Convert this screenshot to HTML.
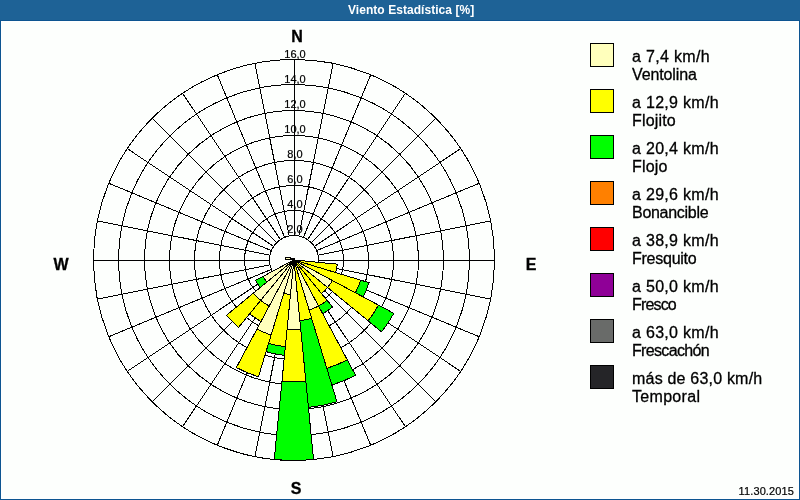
<!DOCTYPE html>
<html><head><meta charset="utf-8"><title>Viento Estadística</title>
<style>
html,body{margin:0;padding:0}
body{width:800px;height:500px;position:relative;overflow:hidden;background:#fff;font-family:"Liberation Sans",sans-serif;color:#000}
#tb{position:absolute;left:0;top:0;width:800px;height:20px;background:#1e6296;border-bottom:1px solid #0d5591}
#tt{position:absolute;left:348px;top:0;color:#fff;font-weight:bold;font-size:12px;line-height:20px;white-space:nowrap;letter-spacing:0.05px}
#bg{position:absolute;left:2px;top:22px;width:796px;height:476px;background:#fdfffd}
#bl{position:absolute;left:0;top:20px;width:1px;height:480px;background:#0d5591}
#br{position:absolute;left:799px;top:20px;width:1px;height:480px;background:#0d5591}
#bb{position:absolute;left:0;top:499px;width:800px;height:1px;background:#0d5591}
.bx{position:absolute;left:590px;width:22px;height:22px;border:1px solid #000}
.lt{position:absolute;left:632px;font-size:16px;line-height:18px;white-space:nowrap;transform:translateY(0.5px);-webkit-text-stroke:0.3px #000}
.l1{letter-spacing:0.3px}
.rl{position:absolute;left:265px;width:60px;text-align:center;font-size:11px;line-height:12px;height:12px;-webkit-text-stroke:0.2px #000}
.dir{position:absolute;font-weight:bold;font-size:16px;line-height:16px;width:40px;text-align:center;-webkit-text-stroke:0.3px #000}
#date{position:absolute;right:6px;top:485px;font-size:11px;line-height:12px;letter-spacing:0.12px;-webkit-text-stroke:0.2px #000}
</style></head><body>
<div id="bg"></div><div id="tb"></div><div id="tt">Viento Estadística [%]</div>
<svg width="800" height="500" viewBox="0 0 800 500" style="position:absolute;left:0;top:0" shape-rendering="crispEdges">
<g fill="none" stroke="#000" stroke-width="1">
<circle cx="294.0" cy="260.0" r="24.5"/>
<circle cx="294.0" cy="260.0" r="49.5"/>
<circle cx="294.0" cy="260.0" r="74.5"/>
<circle cx="294.0" cy="260.0" r="99.5"/>
<circle cx="294.0" cy="260.0" r="124.5"/>
<circle cx="294.0" cy="260.0" r="149.5"/>
<circle cx="294.0" cy="260.0" r="175.5"/>
<circle cx="294.0" cy="260.0" r="200.5"/>
<line x1="294.50" y1="235.50" x2="294.50" y2="59.50"/>
<line x1="298.78" y1="235.97" x2="333.12" y2="63.35"/>
<line x1="303.38" y1="237.36" x2="370.73" y2="74.76"/>
<line x1="307.61" y1="239.63" x2="405.39" y2="93.29"/>
<line x1="311.32" y1="242.68" x2="435.77" y2="118.23"/>
<line x1="314.37" y1="246.39" x2="460.71" y2="148.61"/>
<line x1="316.64" y1="250.62" x2="479.24" y2="183.27"/>
<line x1="318.03" y1="255.22" x2="490.65" y2="220.88"/>
<line x1="318.50" y1="260.50" x2="494.50" y2="260.50"/>
<line x1="318.03" y1="264.78" x2="490.65" y2="299.12"/>
<line x1="316.64" y1="269.38" x2="479.24" y2="336.73"/>
<line x1="314.37" y1="273.61" x2="460.71" y2="371.39"/>
<line x1="311.32" y1="277.32" x2="435.77" y2="401.77"/>
<line x1="307.61" y1="280.37" x2="405.39" y2="426.71"/>
<line x1="303.38" y1="282.64" x2="370.73" y2="445.24"/>
<line x1="298.78" y1="284.03" x2="333.12" y2="456.65"/>
<line x1="294.50" y1="284.50" x2="294.50" y2="460.50"/>
<line x1="289.22" y1="284.03" x2="254.88" y2="456.65"/>
<line x1="284.62" y1="282.64" x2="217.27" y2="445.24"/>
<line x1="280.39" y1="280.37" x2="182.61" y2="426.71"/>
<line x1="276.68" y1="277.32" x2="152.23" y2="401.77"/>
<line x1="273.63" y1="273.61" x2="127.29" y2="371.39"/>
<line x1="271.36" y1="269.38" x2="108.76" y2="336.73"/>
<line x1="269.97" y1="264.78" x2="97.35" y2="299.12"/>
<line x1="269.50" y1="260.50" x2="93.50" y2="260.50"/>
<line x1="269.97" y1="255.22" x2="97.35" y2="220.88"/>
<line x1="271.36" y1="250.62" x2="108.76" y2="183.27"/>
<line x1="273.63" y1="246.39" x2="127.29" y2="148.61"/>
<line x1="276.68" y1="242.68" x2="152.23" y2="118.23"/>
<line x1="280.39" y1="239.63" x2="182.61" y2="93.29"/>
<line x1="284.62" y1="237.36" x2="217.27" y2="74.76"/>
<line x1="289.22" y1="235.97" x2="254.88" y2="63.35"/>
</g>
<g stroke="#000" stroke-width="1" stroke-linejoin="miter">
<path fill="#ffff00" d="M293.9 259.9L337.28 264.17A43.59 43.59 0 0 1 335.61 272.55Z"/>
<path fill="#00ff00" d="M293.9 259.9L368.98 282.67A78.46 78.46 0 0 1 363.09 296.88Z"/>
<path fill="#ffff00" d="M293.9 259.9L360.64 280.14A69.74 69.74 0 0 1 355.40 292.77Z"/>
<path fill="#00ff00" d="M293.9 259.9L393.84 313.32A113.33 113.33 0 0 1 381.50 331.79Z"/>
<path fill="#ffff00" d="M293.9 259.9L378.47 305.10A95.89 95.89 0 0 1 368.02 320.73Z"/>
<path fill="#ffffbc" d="M293.9 259.9L332.34 280.45A43.59 43.59 0 0 1 327.59 287.55Z"/>
<path fill="#ffff00" d="M293.9 259.9L327.59 287.55A43.59 43.59 0 0 1 321.55 293.59Z"/>
<path fill="#00ff00" d="M293.9 259.9L332.61 307.07A61.02 61.02 0 0 1 322.67 313.72Z"/>
<path fill="#ffff00" d="M293.9 259.9L327.08 300.33A52.30 52.30 0 0 1 318.56 306.03Z"/>
<path fill="#00ff00" d="M293.9 259.9L355.54 375.22A130.76 130.76 0 0 1 331.86 385.03Z"/>
<path fill="#ffff00" d="M293.9 259.9L347.32 359.84A113.33 113.33 0 0 1 326.80 368.35Z"/>
<path fill="#ffffbc" d="M293.9 259.9L318.56 306.03A52.30 52.30 0 0 1 309.08 309.95Z"/>
<path fill="#00ff00" d="M293.9 259.9L336.92 401.71A148.20 148.20 0 0 1 308.43 407.38Z"/>
<path fill="#ffff00" d="M293.9 259.9L311.61 318.29A61.02 61.02 0 0 1 299.88 320.63Z"/>
<path fill="#00ff00" d="M293.9 259.9L313.55 459.43A200.50 200.50 0 0 1 274.25 459.43Z"/>
<path fill="#ffff00" d="M293.9 259.9L305.86 381.36A122.04 122.04 0 0 1 281.94 381.36Z"/>
<path fill="#ffffbc" d="M293.9 259.9L300.74 329.30A69.74 69.74 0 0 1 287.06 329.30Z"/>
<path fill="#00ff00" d="M293.9 259.9L284.50 355.33A95.89 95.89 0 0 1 266.06 351.66Z"/>
<path fill="#ffff00" d="M293.9 259.9L285.36 346.65A87.17 87.17 0 0 1 268.59 343.32Z"/>
<path fill="#ffffbc" d="M293.9 259.9L290.48 294.60A34.87 34.87 0 0 1 283.78 293.27Z"/>
<path fill="#ffff00" d="M293.9 259.9L258.47 376.69A122.04 122.04 0 0 1 236.37 367.53Z"/>
<path fill="#ffffbc" d="M293.9 259.9L271.13 334.98A78.46 78.46 0 0 1 256.92 329.09Z"/>
<path fill="#ffff00" d="M293.9 259.9L261.03 321.40A69.74 69.74 0 0 1 249.66 313.81Z"/>
<path fill="#ffffbc" d="M293.9 259.9L269.24 306.03A52.30 52.30 0 0 1 260.72 300.33Z"/>
<path fill="#ffff00" d="M293.9 259.9L238.60 327.29A87.17 87.17 0 0 1 226.51 315.20Z"/>
<path fill="#ffffbc" d="M293.9 259.9L260.72 300.33A52.30 52.30 0 0 1 253.47 293.08Z"/>
<path fill="#00ff00" d="M293.9 259.9L260.21 287.55A43.59 43.59 0 0 1 255.46 280.45Z"/>
<path fill="#ffffbc" d="M293.9 259.9L266.95 282.02A34.87 34.87 0 0 1 263.15 276.34Z"/>
<rect x="285.5" y="257.5" width="5" height="2" fill="#ffffbc"/><path d="M290 258.5L294 258.5L294 260.5Z" fill="#000"/>
</g>
</svg>
<div class="rl" style="top:223px">2,0</div><div class="rl" style="top:198px">4,0</div><div class="rl" style="top:173px">6,0</div><div class="rl" style="top:148px">8,0</div><div class="rl" style="top:123px">10,0</div><div class="rl" style="top:98px">12,0</div><div class="rl" style="top:72px;transform:translateY(0.5px)">14,0</div><div class="rl" style="top:47px;transform:translateY(0.5px)">16,0</div>
<div class="dir" style="left:277px;top:29px">N</div>
<div class="dir" style="left:276px;top:481px">S</div>
<div class="dir" style="left:511px;top:257px">E</div>
<div class="dir" style="left:41px;top:257px">W</div>
<div class="bx" style="top:43px;background:#ffffbc"></div><div class="lt" style="top:47px"><span style="letter-spacing:0.33px">a 7,4 km/h</span><br><span style="letter-spacing:-0.12px">Ventolina</span></div><div class="bx" style="top:89px;background:#ffff00"></div><div class="lt" style="top:93px"><span style="letter-spacing:0.30px">a 12,9 km/h</span><br><span style="letter-spacing:0.17px">Flojito</span></div><div class="bx" style="top:135px;background:#00ff00"></div><div class="lt" style="top:139px"><span style="letter-spacing:0.30px">a 20,4 km/h</span><br><span style="letter-spacing:0.15px">Flojo</span></div><div class="bx" style="top:181px;background:#ff8000"></div><div class="lt" style="top:185px"><span style="letter-spacing:0.30px">a 29,6 km/h</span><br><span style="letter-spacing:-0.29px">Bonancible</span></div><div class="bx" style="top:227px;background:#ff0000"></div><div class="lt" style="top:231px"><span style="letter-spacing:0.30px">a 38,9 km/h</span><br><span style="letter-spacing:-0.25px">Fresquito</span></div><div class="bx" style="top:273px;background:#8f0097"></div><div class="lt" style="top:277px"><span style="letter-spacing:0.30px">a 50,0 km/h</span><br><span style="letter-spacing:-0.84px">Fresco</span></div><div class="bx" style="top:319px;background:#696b69"></div><div class="lt" style="top:323px"><span style="letter-spacing:0.30px">a 63,0 km/h</span><br><span style="letter-spacing:-0.67px">Frescachón</span></div><div class="bx" style="top:365px;background:#252528"></div><div class="lt" style="top:369px"><span style="letter-spacing:0.20px">más de 63,0 km/h</span><br><span style="letter-spacing:0.31px">Temporal</span></div>
<div id="date">11.30.2015</div>
<div id="bl"></div><div id="br"></div><div id="bb"></div>
</body></html>
